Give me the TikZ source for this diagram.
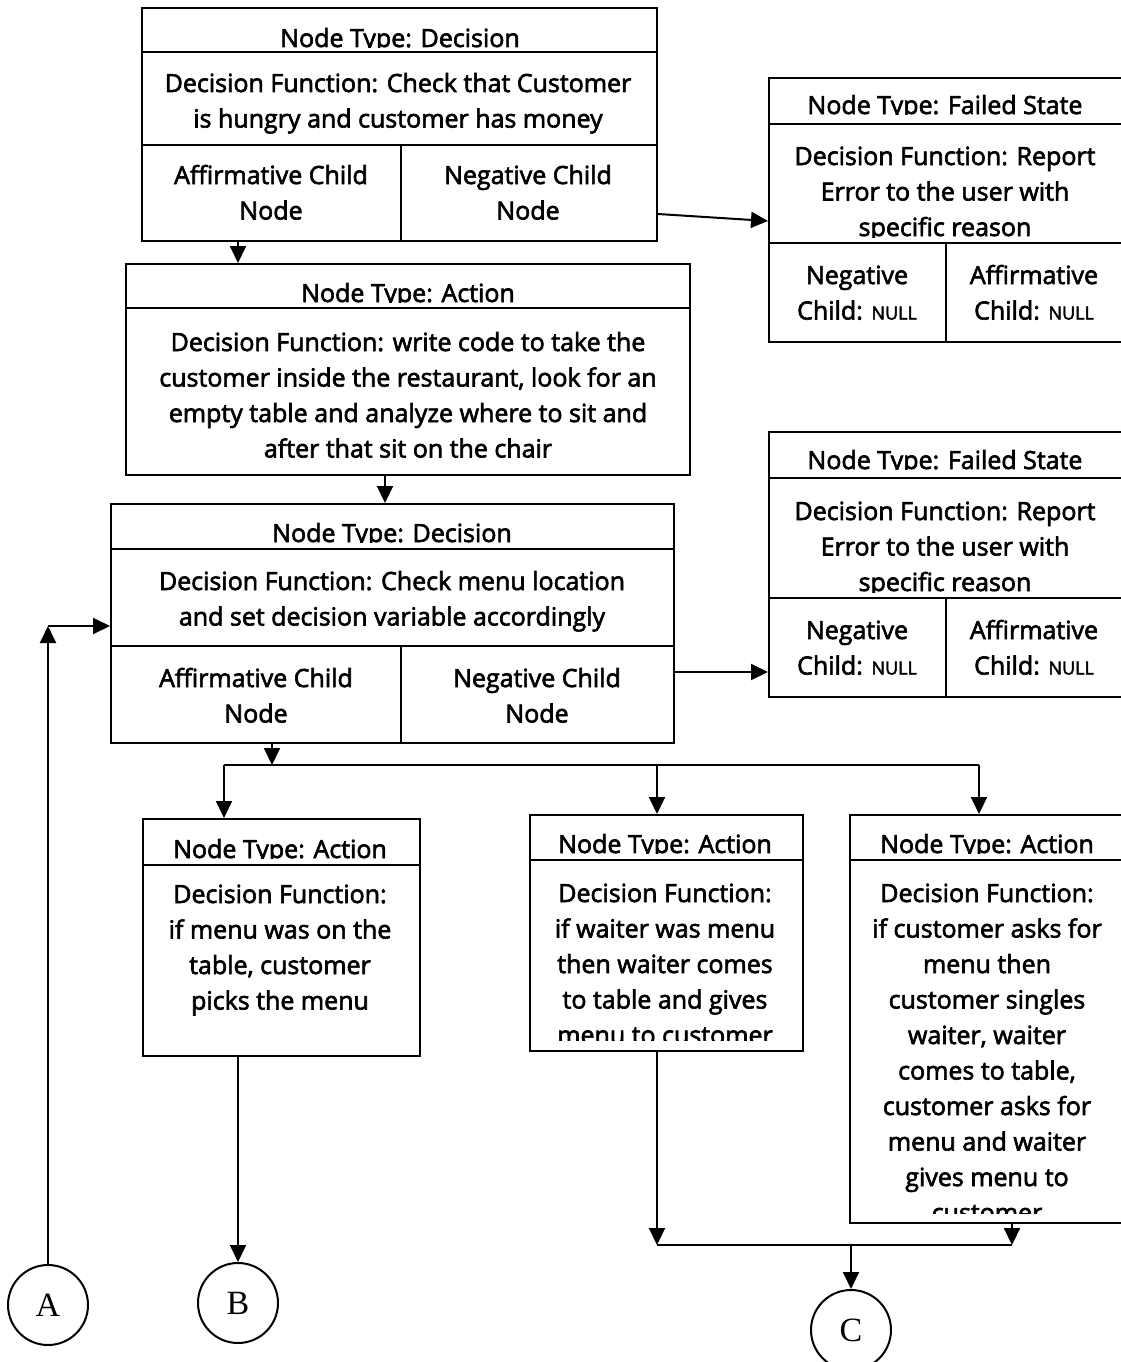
\documentclass[tikz,border=0pt]{standalone}
\usepackage{fontspec}
\setmainfont{Open Sans}[FakeBold=2.5]
\newfontfamily\termfont{Liberation Serif}
\usetikzlibrary{arrows.meta}
\newcommand\txtsize{\fontsize{25}{35.5}\selectfont}
\newcommand\nullsize{\fontsize{18}{20}\selectfont}
\newcommand\nul{{\nullsize NULL}}
\begin{document}
\begin{tikzpicture}[x=1pt,y=-1pt,
  frame/.style={draw, line width=2pt, rectangle, inner sep=0pt, anchor=north west},
  rule/.style={line width=2pt},
  txt/.style={font=\txtsize, align=center, inner sep=0pt, anchor=base},
  conn/.style={line width=2pt},
  arr/.style={line width=2pt, -{Triangle[length=17pt,width=16pt]}},
  term/.style={draw, line width=2pt, circle, minimum size=80pt, inner sep=0pt,
               font=\termfont\fontsize{34}{34}\selectfont}]
\useasboundingbox (0,0) rectangle (1120,1362);

% ---------- outer frames ----------
\node[frame, minimum width=515, minimum height=233] (d1) at (141,7) {};
\node[frame, minimum width=564, minimum height=211] (a2) at (125,263) {};
\node[frame, minimum width=563, minimum height=239] (d3) at (110,503) {};
\node[frame, minimum width=354, minimum height=264] (f1) at (768,77) {};
\node[frame, minimum width=354, minimum height=265] (f2) at (768,431) {};
\node[frame, minimum width=277, minimum height=237] (a4) at (142,818) {};
\node[frame, minimum width=273, minimum height=236] (a5) at (529,814) {};
\node[frame, minimum width=273, minimum height=408] (a6) at (849,814) {};

% ---------- inner rules ----------
\draw[rule] (141,52) -- (656,52) (141,145) -- (656,145) (401,145) -- (401,240);
\draw[rule] (125,308) -- (689,308);
\draw[rule] (110,549) -- (673,549) (110,646) -- (673,646) (401,646) -- (401,742);
\draw[rule] (768,124) -- (1122,124) (768,243) -- (1122,243) (946,243) -- (946,341);
\draw[rule] (768,478) -- (1122,478) (768,598) -- (1122,598) (946,598) -- (946,696);
\draw[rule] (142,865) -- (419,865);
\draw[rule] (529,860) -- (802,860);
\draw[rule] (849,860) -- (1122,860);

% ---------- top decision (anchor = baseline of the last line) ----------
\begin{scope}
  \clip (143,9) rectangle (654,47.5);
  \node[txt] (d1h) at (400,47) {Node Type: Decision};
\end{scope}
\node[txt] (d1b) at (398,127.5) {Decision Function: Check that Customer\\is hungry and customer has money};
\node[txt] (d1l) at (271,219.5) {Affirmative Child\\Node};
\node[txt] (d1r) at (528,219.5) {Negative Child\\Node};

% ---------- first action ----------
\begin{scope}
  \clip (127,265) rectangle (687,302.5);
  \node[txt] (a2h) at (408,302) {Node Type: Action};
\end{scope}
\node[txt] (a2b) at (408,457.5) {Decision Function: write code to take the\\customer inside the restaurant, look for an\\empty table and analyze where to sit and\\after that sit on the chair};

% ---------- second decision ----------
\begin{scope}
  \clip (112,505) rectangle (671,542.5);
  \node[txt] (d3h) at (392,542) {Node Type: Decision};
\end{scope}
\node[txt] (d3b) at (392,625.5) {Decision Function: Check menu location\\and set decision variable accordingly};
\node[txt] (d3l) at (256,722.5) {Affirmative Child\\Node};
\node[txt] (d3r) at (537,722.5) {Negative Child\\Node};

% ---------- failed states ----------
\begin{scope}
  \clip (770,79) rectangle (1120,114.5);
  \node[txt] (f1h) at (945,114) {Node Type: Failed State};
\end{scope}
\begin{scope}
  \clip (770,126) rectangle (1120,237);
  \node[txt] (f1b) at (945,236) {Decision Function: Report\\Error to the user with\\specific reason};
\end{scope}
\node[txt] (f1l) at (857,319.5) {Negative\\Child: \nul};
\node[txt] (f1r) at (1034,319.5) {Affirmative\\Child: \nul};

\begin{scope}
  \clip (770,433) rectangle (1120,469.5);
  \node[txt] (f2h) at (945,469) {Node Type: Failed State};
\end{scope}
\begin{scope}
  \clip (770,480) rectangle (1120,592);
  \node[txt] (f2b) at (945,591) {Decision Function: Report\\Error to the user with\\specific reason};
\end{scope}
\node[txt] (f2l) at (857,674.5) {Negative\\Child: \nul};
\node[txt] (f2r) at (1034,674.5) {Affirmative\\Child: \nul};

% ---------- menu actions ----------
\begin{scope}
  \clip (144,820) rectangle (417,858.5);
  \node[txt] (a4h) at (280,858) {Node Type: Action};
\end{scope}
\node[txt] (a4b) at (280,1009.5) {Decision Function:\\if menu was on the\\table, customer\\picks the menu};

\begin{scope}
  \clip (531,816) rectangle (800,853.5);
  \node[txt] (a5h) at (665,853) {Node Type: Action};
\end{scope}
\begin{scope}
  \clip (531,862) rectangle (800,1040);
  \node[txt] (a5b) at (665,1044) {Decision Function:\\if waiter was menu\\then waiter comes\\to table and gives\\menu to customer};
\end{scope}

\begin{scope}
  \clip (851,816) rectangle (1120,853.5);
  \node[txt] (a6h) at (987,853) {Node Type: Action};
\end{scope}
\begin{scope}
  \clip (851,862) rectangle (1120,1213);
  \node[txt] (a6b) at (987,1221.5) {Decision Function:\\if customer asks for\\menu then\\customer singles\\waiter, waiter\\comes to table,\\customer asks for\\menu and waiter\\gives menu to\\customer};
\end{scope}

% ---------- terminals ----------
\node[term] (A) at (48,1305) {A};
\node[term] (B) at (238,1303) {B};
\node[term] (C) at (851,1330) {C};

% ---------- connectors ----------
\coordinate (loop) at (48,626);
\coordinate (busL) at (224,765);
\coordinate (busM) at (657,765);
\coordinate (busR) at (979,765);
\coordinate (joinL) at (657,1245);
\coordinate (joinR) at (1012,1245);

\draw[arr] (238,0 |- d1.south) -- (238,0 |- a2.north);
\draw[arr] (d1.east |- 0,214) -- (f1.west |- 0,221);
\draw[arr] (385,0 |- a2.south) -- (385,0 |- d3.north);
\draw[arr] (d3.east |- 0,672) -- (f2.west |- 0,672);

\draw[arr] (272,0 |- d3.south) -- (272,765);
\draw[conn] (busL) -- (busR);
\draw[arr] (busL) -- (busL |- a4.north);
\draw[arr] (busM) -- (busM |- a5.north);
\draw[arr] (busR) -- (busR |- a6.north);

\draw[arr] (B.north |- a4.south) -- (B.north);

\draw[arr] (joinL |- a5.south) -- (joinL);
\draw[arr] (joinR |- a6.south) -- (joinR);
\draw[conn] (joinL) -- (joinR);
\draw[arr] (C.north |- joinL) -- (C.north);

\draw[arr] (A.north) -- (loop);
\draw[arr] (loop) -- (loop -| d3.west);
\end{tikzpicture}
\end{document}
